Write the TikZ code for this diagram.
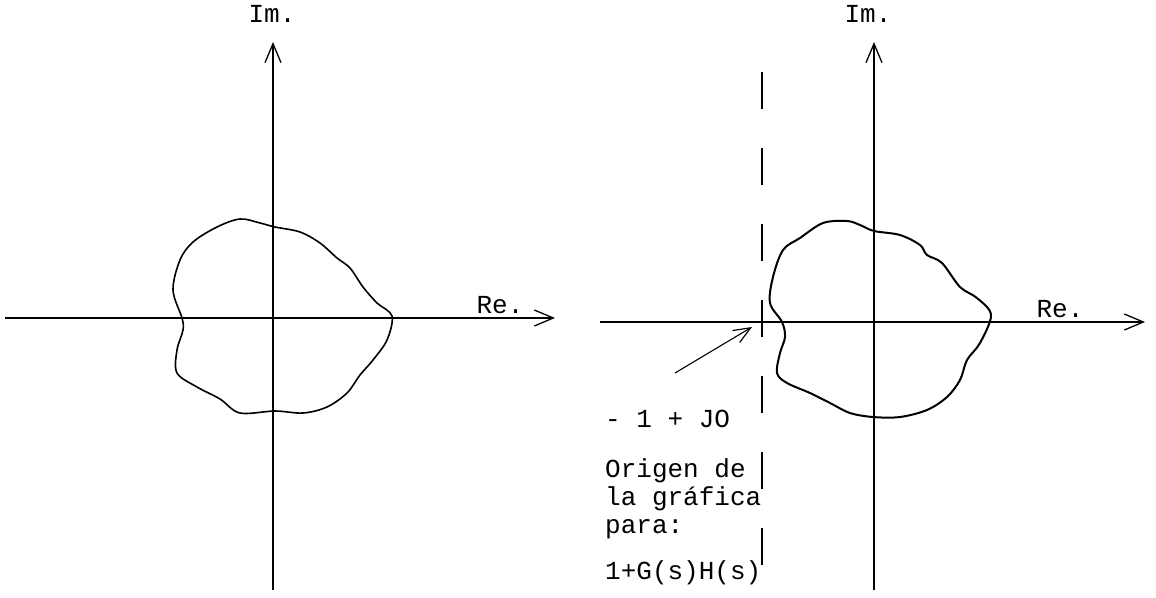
\documentclass[tikz,border=0pt]{standalone}
\usepackage{fontspec}
\setmonofont{Liberation Mono}
\usetikzlibrary{arrows.meta}

\tikzset{
  axis/.style={line width=1.1pt,-{Straight Barb[length=19pt,width=16pt,line width=1.3pt]}},
  plain axis/.style={line width=1.1pt},
  locus/.style={line width=1.8pt,smooth cycle,tension=0.55},
  lbl/.style={font=\ttfamily\fontsize{26}{30}\selectfont,inner sep=0pt,anchor=base},
  txt/.style={lbl,anchor=base west},
}

\begin{document}
\begin{tikzpicture}[x=1pt,y=-1pt]
\useasboundingbox (0,0) rectangle (1156,597);

% left plane
\coordinate (L-W) at (5,318);
\coordinate (L-E) at (555,318);
\coordinate (L-S) at (273,590);
\coordinate (L-N) at (273,42);
\draw[plain axis] (L-S) -- (273,318);
\draw[axis] (273,318) -- (L-N);
\draw[axis] (L-W) -- (L-E);
\draw (272,23) node[lbl](imL) {Im.};
\draw (500,313) node[lbl](reL) {Re.};

\draw[locus,line width=1.6pt] plot coordinates {
  (182,318) (173,290) (180,260) (193,242) (217,227) (240,219) (260,223)
  (275,227) (300,232) (320,243) (337,258) (350,268) (363,287) (377,303)
  (392,316) (387,340) (373,360) (360,375) (347,393) (327,407) (303,413)
  (275,411) (240,413) (220,399) (197,387) (177,373) (177,350) (183,330)};

% right plane
\coordinate (R-W) at (600,322);
\coordinate (R-E) at (1145,322);
\coordinate (R-S) at (874,590);
\coordinate (R-N) at (874,42);
\draw[plain axis] (R-S) -- (874,322);
\draw[axis] (874,322) -- (R-N);
\draw[axis] (R-W) -- (R-E);
\draw (868,23) node[lbl](imR) {Im.};
\draw (1060,317) node[lbl](reR) {Re.};

\draw[locus,line width=2pt] plot coordinates {
  (782,322) (770,303) (773,277) (783,250) (800,238) (823,223) (847,221)
  (860,225) (874,231) (900,235) (920,245) (927,255) (942,263) (960,287)
  (977,298) (991,315) (980,343) (967,360) (960,380) (947,397) (927,410)
  (900,417) (873,417) (850,413) (830,403) (810,393) (787,383) (777,373)
  (780,353) (785,337)};

% critical point line
\coordinate (crit-top) at (762,72);
\coordinate (crit-bot) at (762,566);
\draw[line width=1.5pt,dash pattern=on 37pt off 39pt] (crit-top) -- (crit-bot);

\draw (605,427) node[txt](jo) {- 1 + JO};
\draw (605,477) node[txt](org1) {Origen de};
\draw (605,505) node[txt](org2) {la gráfica};
\draw (605,533) node[txt](org3) {para:};
\draw (605,579) node[txt](org4) {1+G(s)H(s)};

\coordinate (pt-tail) at (675,373);
\coordinate (pt-head) at (752,327);
\draw[line width=1.1pt,-{Straight Barb[length=17pt,width=14pt,line width=1.2pt]}] (pt-tail) -- (pt-head);
\end{tikzpicture}
\end{document}
